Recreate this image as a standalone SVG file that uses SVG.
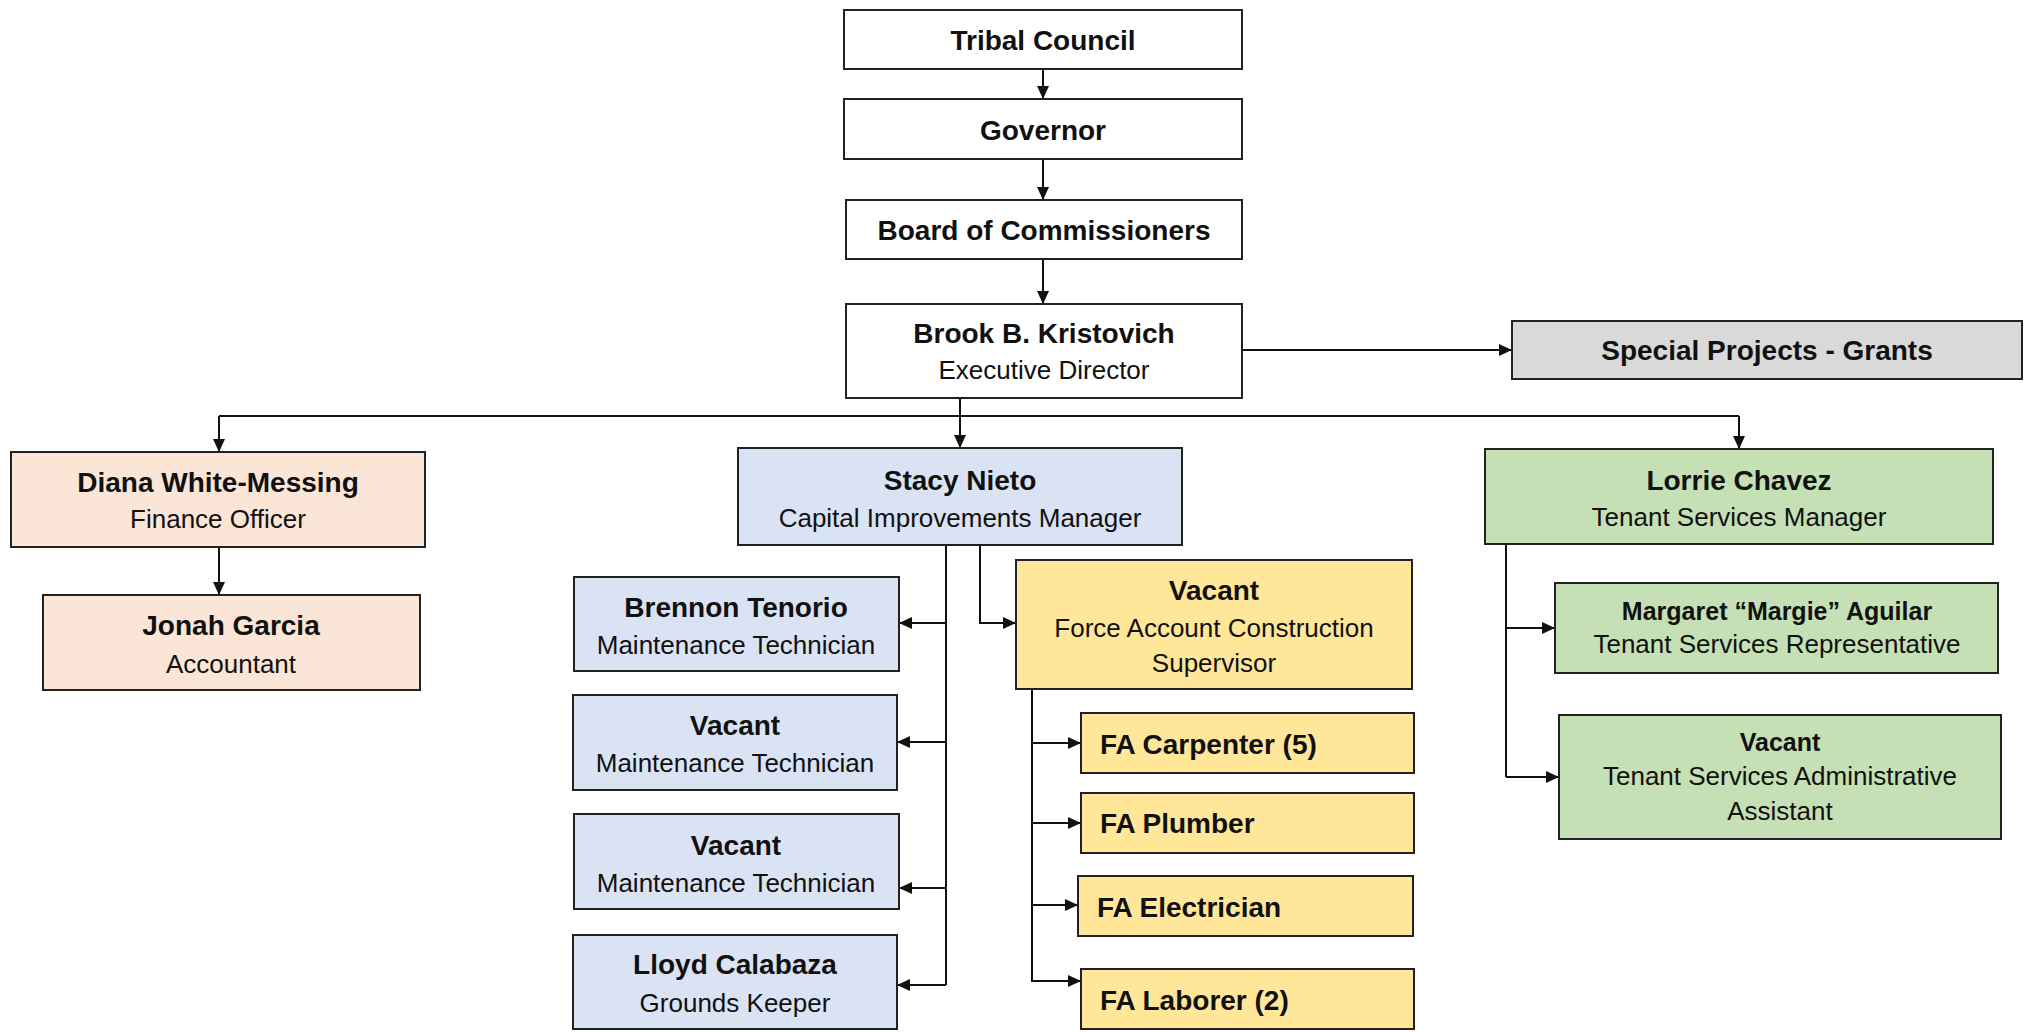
<svg xmlns="http://www.w3.org/2000/svg" width="2024" height="1032" viewBox="0 0 2024 1032">
<defs>
<marker id="arr" markerUnits="userSpaceOnUse" markerWidth="14" markerHeight="14" refX="13" refY="7" orient="auto">
<path d="M0,1 L13,7 L0,13 z" fill="#111"/>
</marker>
<style>
.box{stroke:#222;stroke-width:2}
.w{fill:#ffffff}
.g{fill:#d9d9d9}
.p{fill:#fbe5d6}
.b{fill:#dae3f3}
.y{fill:#ffe699}
.gr{fill:#c5e0b4}
text{font-family:"Liberation Sans",Arial,sans-serif;fill:#111;text-anchor:middle}
.n{font-weight:bold;font-size:28px}
.ns{font-weight:bold;font-size:25px}
.t{font-size:26px}
.l{text-anchor:start}
.c{fill:none;stroke:#111;stroke-width:2}
</style>
</defs>
<rect width="2024" height="1032" fill="#ffffff"/>
<g id="connectors">
<line class="c" x1="1043" y1="69" x2="1043" y2="99" marker-end="url(#arr)"/>
<line class="c" x1="1043" y1="159" x2="1043" y2="200" marker-end="url(#arr)"/>
<line class="c" x1="1043" y1="259" x2="1043" y2="304" marker-end="url(#arr)"/>
<line class="c" x1="1242" y1="350" x2="1512" y2="350" marker-end="url(#arr)"/>
<polyline class="c" points="960,398 960,416"/>
<polyline class="c" points="219,416 1739,416"/>
<line class="c" x1="219" y1="416" x2="219" y2="452" marker-end="url(#arr)"/>
<line class="c" x1="960" y1="416" x2="960" y2="448" marker-end="url(#arr)"/>
<line class="c" x1="1739" y1="416" x2="1739" y2="449" marker-end="url(#arr)"/>
<line class="c" x1="219" y1="547" x2="219" y2="595" marker-end="url(#arr)"/>
<polyline class="c" points="946,545 946,985"/>
<line class="c" x1="946" y1="623" x2="899" y2="623" marker-end="url(#arr)"/>
<line class="c" x1="946" y1="742" x2="897" y2="742" marker-end="url(#arr)"/>
<line class="c" x1="946" y1="888" x2="899" y2="888" marker-end="url(#arr)"/>
<line class="c" x1="946" y1="985" x2="897" y2="985" marker-end="url(#arr)"/>
<polyline class="c" points="980,545 980,623 1016,623" marker-end="url(#arr)"/>
<polyline class="c" points="1032,689 1032,982"/>
<line class="c" x1="1032" y1="743" x2="1081" y2="743" marker-end="url(#arr)"/>
<line class="c" x1="1032" y1="823" x2="1081" y2="823" marker-end="url(#arr)"/>
<line class="c" x1="1032" y1="905" x2="1078" y2="905" marker-end="url(#arr)"/>
<polyline class="c" points="1032,981 1081,981" marker-end="url(#arr)"/>
<polyline class="c" points="1506,544 1506,777"/>
<line class="c" x1="1506" y1="628" x2="1555" y2="628" marker-end="url(#arr)"/>
<line class="c" x1="1506" y1="777" x2="1559" y2="777" marker-end="url(#arr)"/>
</g>
<g id="tribal-council">
<rect class="box w" x="844" y="10" width="398" height="59"/>
<text class="n" x="1043" y="50">Tribal Council</text>
</g>
<g id="governor">
<rect class="box w" x="844" y="99" width="398" height="60"/>
<text class="n" x="1043" y="140">Governor</text>
</g>
<g id="board">
<rect class="box w" x="846" y="200" width="396" height="59"/>
<text class="n" x="1044" y="240">Board of Commissioners</text>
</g>
<g id="executive-director">
<rect class="box w" x="846" y="304" width="396" height="94"/>
<text class="n" x="1044" y="343">Brook B. Kristovich</text>
<text class="t" x="1044" y="379">Executive Director</text>
</g>
<g id="special-projects">
<rect class="box g" x="1512" y="321" width="510" height="58"/>
<text class="n" x="1767" y="360">Special Projects - Grants</text>
</g>
<g id="finance-officer">
<rect class="box p" x="11" y="452" width="414" height="95"/>
<text class="n" x="218" y="492">Diana White-Messing</text>
<text class="t" x="218" y="528">Finance Officer</text>
</g>
<g id="accountant">
<rect class="box p" x="43" y="595" width="377" height="95"/>
<text class="n" x="231" y="635">Jonah Garcia</text>
<text class="t" x="231" y="673">Accountant</text>
</g>
<g id="capital-improvements">
<rect class="box b" x="738" y="448" width="444" height="97"/>
<text class="n" x="960" y="490">Stacy Nieto</text>
<text class="t" x="960" y="527">Capital Improvements Manager</text>
</g>
<g id="tech-brennon">
<rect class="box b" x="574" y="577" width="325" height="94"/>
<text class="n" x="736" y="617">Brennon Tenorio</text>
<text class="t" x="736" y="654">Maintenance Technician</text>
</g>
<g id="tech-vacant-1">
<rect class="box b" x="573" y="695" width="324" height="95"/>
<text class="n" x="735" y="735">Vacant</text>
<text class="t" x="735" y="772">Maintenance Technician</text>
</g>
<g id="tech-vacant-2">
<rect class="box b" x="574" y="814" width="325" height="95"/>
<text class="n" x="736" y="855">Vacant</text>
<text class="t" x="736" y="892">Maintenance Technician</text>
</g>
<g id="grounds-keeper">
<rect class="box b" x="573" y="935" width="324" height="94"/>
<text class="n" x="735" y="974">Lloyd Calabaza</text>
<text class="t" x="735" y="1012">Grounds Keeper</text>
</g>
<g id="fa-supervisor">
<rect class="box y" x="1016" y="560" width="396" height="129"/>
<text class="n" x="1214" y="600">Vacant</text>
<text class="t" x="1214" y="637">Force Account Construction</text>
<text class="t" x="1214" y="672">Supervisor</text>
</g>
<g id="fa-carpenter">
<rect class="box y" x="1081" y="713" width="333" height="60"/>
<text class="n l" x="1100" y="754">FA Carpenter (5)</text>
</g>
<g id="fa-plumber">
<rect class="box y" x="1081" y="793" width="333" height="60"/>
<text class="n l" x="1100" y="833">FA Plumber</text>
</g>
<g id="fa-electrician">
<rect class="box y" x="1078" y="876" width="335" height="60"/>
<text class="n l" x="1097" y="917">FA Electrician</text>
</g>
<g id="fa-laborer">
<rect class="box y" x="1081" y="969" width="333" height="60"/>
<text class="n l" x="1100" y="1010">FA Laborer (2)</text>
</g>
<g id="tenant-services">
<rect class="box gr" x="1485" y="449" width="508" height="95"/>
<text class="n" x="1739" y="490">Lorrie Chavez</text>
<text class="t" x="1739" y="526">Tenant Services Manager</text>
</g>
<g id="tenant-rep">
<rect class="box gr" x="1555" y="583" width="443" height="90"/>
<text class="ns" x="1777" y="620">Margaret “Margie” Aguilar</text>
<text class="t" x="1777" y="653">Tenant Services Representative</text>
</g>
<g id="tenant-admin">
<rect class="box gr" x="1559" y="715" width="442" height="124"/>
<text class="ns" x="1780" y="751">Vacant</text>
<text class="t" x="1780" y="785">Tenant Services Administrative</text>
<text class="t" x="1780" y="820">Assistant</text>
</g>
</svg>
